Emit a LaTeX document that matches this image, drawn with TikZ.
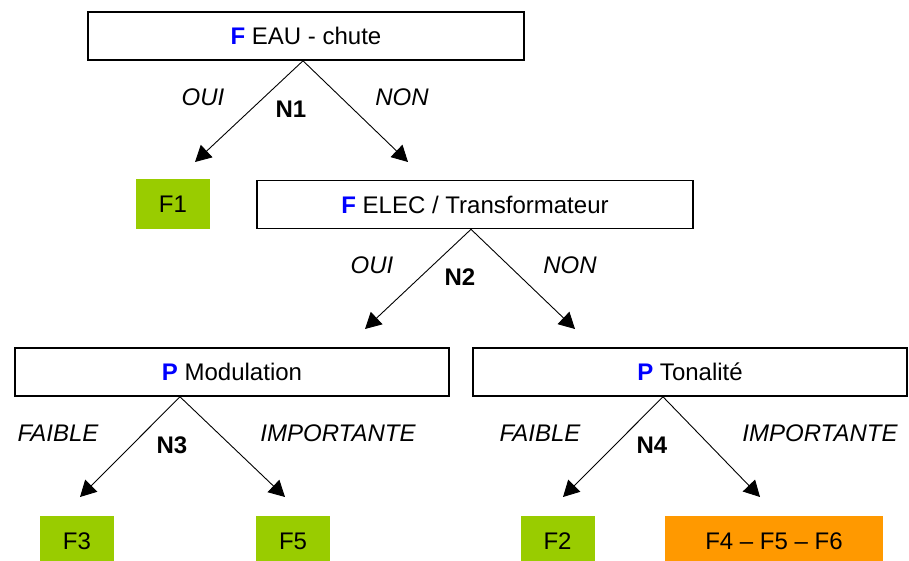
\documentclass[tikz,border=0pt]{standalone}
\usepackage{fontspec}
\setmainfont{Liberation Sans}
\usepackage{xcolor}
\usepackage{tikz}
\usetikzlibrary{arrows.meta}
\usetikzlibrary{calc}
\definecolor{vert}{HTML}{99CC00}
\definecolor{orangef}{HTML}{FF9900}
\definecolor{bleu}{HTML}{0000FF}
\newcommand{\taille}{\fontsize{24}{28}\selectfont}

\begin{document}
\begin{tikzpicture}[x=1pt, y=-1pt,
    question/.style={draw, rectangle, line width=1.6pt, minimum height=48pt, inner sep=0pt, font=\taille},
    feuille/.style={rectangle, fill=vert, minimum width=74pt, minimum height=50pt, inner sep=0pt, font=\taille},
    fleche/.style={-{Triangle[length=16pt,width=17pt]}, line width=0.9pt},
    reponse/.style={font=\taille\itshape},
    niveau/.style={font=\taille\bfseries}]
              \useasboundingbox (0,0) rectangle (909,561);

              \draw (306,36) node[question, minimum width=436pt]                 (eau) {\textcolor{bleu}{\textbf{F}} EAU - chute};
              \draw (475,204.5) node[question, minimum width=436pt]              (elec) {\textcolor{bleu}{\textbf{F}} ELEC / Transformateur};
              \draw (232,372) node[question, minimum width=434pt]                (modul) {\textcolor{bleu}{\textbf{P}} Modulation};
              \draw (690,372) node[question, minimum width=434pt]                (tonal) {\textcolor{bleu}{\textbf{P}} Tonalité};

              \draw (173,204) node[feuille]                                      (f1) {F1};
              \draw (77,541) node[feuille]                                       (f3) {F3};
              \draw (293,541) node[feuille]                                      (f5) {F5};
              \draw (557.5,541) node[feuille]                                    (f2) {F2};
              \draw (774,541) node[feuille, fill=orangef, minimum width=218pt]   (f456) {F4 -- F5 -- F6};

              \coordinate (t1) at (195,162);
              \coordinate (t2) at (408,162);
              \coordinate (t3) at (365,329);
              \coordinate (t4) at (575,329);
              \coordinate (t5) at (80,497);
              \coordinate (t6) at (285,497);
              \coordinate (t7) at (563,497);
              \coordinate (t8) at (760,497);

              \draw[fleche] ($(eau.south)+(-3,0)$) -- (t1);
              \draw[fleche] ($(eau.south)+(-3,0)$) -- (t2);
              \draw[fleche] ($(elec.south)+(-4,0)$) -- (t3);
              \draw[fleche] ($(elec.south)+(-4,0)$) -- (t4);
              \draw[fleche] ($(modul.south)+(-52,0)$) -- (t5);
              \draw[fleche] ($(modul.south)+(-52,0)$) -- (t6);
              \draw[fleche] ($(tonal.south)+(-27,0)$) -- (t7);
              \draw[fleche] ($(tonal.south)+(-27,0)$) -- (t8);

              \draw (203,97) node[reponse]  (oui1) {OUI};
              \draw (291,109) node[niveau]  (n1) {N1};
              \draw (402,97) node[reponse]  (non1) {NON};
              \draw (372,265) node[reponse] (oui2) {OUI};
              \draw (460,277) node[niveau]  (n2) {N2};
              \draw (570,265) node[reponse] (non2) {NON};
              \draw (58,433) node[reponse]  (faible3) {FAIBLE};
              \draw (172,445) node[niveau]  (n3) {N3};
              \draw (338,433) node[reponse] (imp3) {IMPORTANTE};
              \draw (540,433) node[reponse] (faible4) {FAIBLE};
              \draw (652,445) node[niveau]  (n4) {N4};
              \draw (820,433) node[reponse] (imp4) {IMPORTANTE};
              \end{tikzpicture}
\end{document}
